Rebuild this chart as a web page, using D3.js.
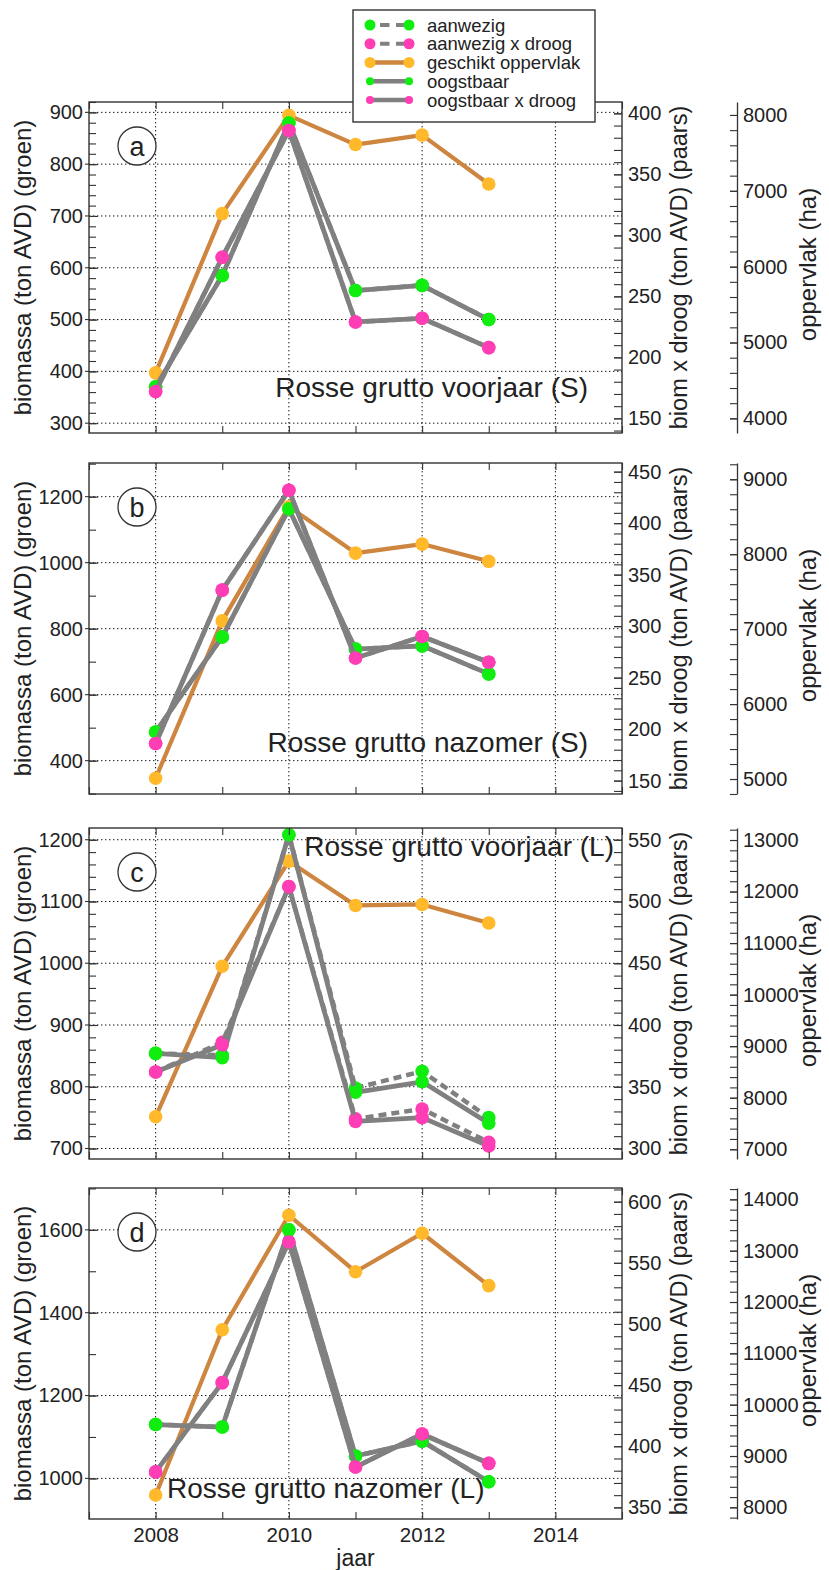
<!DOCTYPE html>
<html><head><meta charset="utf-8">
<script src="https://cdn.jsdelivr.net/npm/d3@7"></script>
<style>
body{margin:0;background:#fff}
svg{display:block}
text{font-family:"Liberation Sans",Arial,Helvetica,sans-serif;fill:#222}
</style>
</head><body>
<svg id="chart" width="829" height="1570"></svg>
<script>
// ---------------- data ----------------
const years = [2008, 2009, 2010, 2011, 2012, 2013];
const allYears = [2007, 2008, 2009, 2010, 2011, 2012, 2013, 2014, 2015];
const xGridYears = [2008, 2010, 2012, 2014];
const xLabelYears = [2008, 2010, 2012, 2014];

const seriesNames = ["aanwezig", "aanwezig x droog", "geschikt oppervlak", "oogstbaar", "oogstbaar x droog"];
const panelLetters = ["a", "b", "c", "d"];
const panelTitles = ["Rosse grutto voorjaar (S)", "Rosse grutto nazomer (S)", "Rosse grutto voorjaar (L)", "Rosse grutto nazomer (L)"];

// panel a
const aanwezigA        = [370, 585, 880, 556, 566, 500];
const aanwezigDroogA   = [172, 282, 386, 229, 232, 208];
const geschiktA        = [4600, 6700, 7995, 7610, 7735, 7090];
const oogstbaarA       = [370, 585, 880, 556, 566, 500];
const oogstbaarDroogA  = [172, 282, 386, 229, 232, 208];
// panel b
const aanwezigB        = [487, 775, 1163, 738, 748, 663];
const aanwezigDroogB   = [186, 335, 432, 269, 290, 265];
const geschiktB        = [5010, 7110, 8635, 8015, 8135, 7905];
const oogstbaarB       = [487, 775, 1163, 738, 748, 663];
const oogstbaarDroogB  = [186, 335, 432, 269, 290, 265];
// panel c
const aanwezigC        = [854, 851, 1208, 798, 825, 750];
const aanwezigDroogC   = [362, 386, 512, 324, 332, 305];
const geschiktC        = [7630, 10550, 12590, 11730, 11750, 11390];
const oogstbaarC       = [854, 847, 1208, 791, 808, 741];
const oogstbaarDroogC  = [362, 384, 512, 322, 325, 302];
// panel d
const aanwezigD        = [1130, 1124, 1600, 1054, 1090, 992];
const aanwezigDroogD   = [379, 452, 567, 383, 410, 386];
const geschiktD        = [8240, 11460, 13690, 12590, 13340, 12320];
const oogstbaarD       = [1130, 1124, 1600, 1054, 1090, 992];
const oogstbaarDroogD  = [379, 452, 567, 383, 410, 386];

// axis domains
const leftDomains  = [[281, 920], [299, 1302], [683, 1219], [902, 1701]];
const rightDomains = [[138, 409.3], [137, 458.4], [291.5, 559.5], [340.5, 611.2]];
const oppDomains   = [[3807, 8171], [4800, 9217], [6811, 13233], [7773, 14221]];

// tick labels
const leftTicks  = [[300,400,500,600,700,800,900], [400,600,800,1000,1200], [700,800,900,1000,1100,1200], [1000,1200,1400,1600]];
const leftMinorStep = [20, 100, 20, 100];
const rightTicks = [[150,200,250,300,350,400], [150,200,250,300,350,400,450], [300,350,400,450,500,550], [350,400,450,500,550,600]];
const rightMinorStep = [10, 10, 10, 10];
const oppTicks   = [[4000,5000,6000,7000,8000], [5000,6000,7000,8000,9000], [7000,8000,9000,10000,11000,12000,13000], [8000,9000,10000,11000,12000,13000,14000]];
const oppMinorStep = [200, 200, 200, 200];

const panelData = [
  [aanwezigA, aanwezigDroogA, geschiktA, oogstbaarA, oogstbaarDroogA],
  [aanwezigB, aanwezigDroogB, geschiktB, oogstbaarB, oogstbaarDroogB],
  [aanwezigC, aanwezigDroogC, geschiktC, oogstbaarC, oogstbaarDroogC],
  [aanwezigD, aanwezigDroogD, geschiktD, oogstbaarD, oogstbaarDroogD]
];

// ---------------- styles / layout ----------------
const GREEN = "#10ee10", PINK = "#ff3db4", GOLD = "#ffb92a", ORANGE_LINE = "#cd853f", GRAY = "#808080";
const seriesStyle = [
  {axis: "L", dash: "8,5", dot: GREEN, line: GRAY, lw: 4.5},
  {axis: "R", dash: "8,5", dot: PINK,  line: GRAY, lw: 4.5},
  {axis: "O", dash: null,  dot: GOLD,  line: ORANGE_LINE, lw: 4.2},
  {axis: "L", dash: null,  dot: GREEN, line: GRAY, lw: 4.8},
  {axis: "R", dash: null,  dot: PINK,  line: GRAY, lw: 4.8}
];
const X0 = 89, X1 = 622, H = 331;
const tops = [102, 463, 828, 1188];
const OPP_X = 737;
const titlePos = [
  {x: 588, y: 387, anchor: "end"},
  {x: 588, y: 742, anchor: "end"},
  {x: 614, y: 846, anchor: "end"},
  {x: 167, y: 1488, anchor: "start"}
];
const FONT = '"Liberation Sans",Arial,Helvetica,sans-serif';
const fmt = d3.format("d");

const svg = d3.select("#chart");
svg.append("rect").attr("width", 829).attr("height", 1570).attr("fill", "#fff");

const x = d3.scaleLinear().domain([2007, 2015]).range([X0, X1]);

function rangeStep(dom, step) {
  const out = [];
  const s = Math.ceil(dom[0] / step) * step;
  for (let v = s; v <= dom[1] + 1e-9; v += step) out.push(v);
  return out;
}
function styleAxis(g, size) {
  g.attr("font-family", FONT).attr("font-size", size);
  g.selectAll("text").attr("fill", "#222");
  g.selectAll("line").attr("stroke", "#333").attr("stroke-width", 1.1);
  g.selectAll("path.domain").attr("stroke", "#333").attr("stroke-width", 1.3);
}

panelData.forEach((series, i) => {
  const top = tops[i], bot = top + H;
  const yL = d3.scaleLinear().domain(leftDomains[i]).range([bot, top]);
  const yR = d3.scaleLinear().domain(rightDomains[i]).range([bot, top]);
  const yO = d3.scaleLinear().domain(oppDomains[i]).range([bot, top]);
  const scales = {L: yL, R: yR, O: yO};
  const g = svg.append("g");

  // grid
  g.append("g").selectAll("line").data(leftTicks[i]).enter().append("line")
    .attr("x1", X0).attr("x2", X1).attr("y1", d => yL(d)).attr("y2", d => yL(d))
    .attr("stroke", "#111").attr("stroke-width", 1).attr("stroke-dasharray", "1.4,2.6");
  g.append("g").selectAll("line").data(xGridYears).enter().append("line")
    .attr("x1", d => x(d)).attr("x2", d => x(d)).attr("y1", top).attr("y2", bot)
    .attr("stroke", "#111").attr("stroke-width", 1).attr("stroke-dasharray", "1.4,2.6");

  // series
  series.forEach((vals, k) => {
    const st = seriesStyle[k];
    const sc = scales[st.axis];
    const ln = d3.line().x((d, j) => x(years[j])).y(d => sc(d));
    g.append("path").attr("d", ln(vals)).attr("fill", "none")
      .attr("stroke", st.line).attr("stroke-width", st.lw)
      .attr("stroke-linejoin", "round")
      .attr("stroke-dasharray", st.dash);
    g.append("g").selectAll("circle").data(vals).enter().append("circle")
      .attr("cx", (d, j) => x(years[j])).attr("cy", d => sc(d)).attr("r", 6.8)
      .attr("fill", st.dot);
  });

  // box
  g.append("rect").attr("x", X0).attr("y", top).attr("width", X1 - X0).attr("height", H)
    .attr("fill", "none").attr("stroke", "#333").attr("stroke-width", 1.4);

  // left axis
  const la = g.append("g").attr("transform", `translate(${X0},0)`)
    .call(d3.axisLeft(yL).tickValues(leftTicks[i]).tickFormat(fmt).tickSizeInner(-9).tickSizeOuter(0).tickPadding(6));
  la.select(".domain").remove();
  styleAxis(la, 20);
  const lm = g.append("g").attr("transform", `translate(${X0},0)`)
    .call(d3.axisLeft(yL).tickValues(rangeStep(leftDomains[i], leftMinorStep[i])).tickSizeInner(-7).tickSizeOuter(0).tickFormat(""));
  lm.select(".domain").remove();
  styleAxis(lm, 20);
  g.append("g").selectAll("line").data(leftTicks[i]).enter().append("line")
    .attr("x1", X0 - 4).attr("x2", X0).attr("y1", d => yL(d)).attr("y2", d => yL(d))
    .attr("stroke", "#333").attr("stroke-width", 1.1);

  // right axis (biom x droog)
  const ra = g.append("g").attr("transform", `translate(${X1},0)`)
    .call(d3.axisRight(yR).tickValues(rightTicks[i]).tickFormat(fmt).tickSizeInner(-8).tickSizeOuter(0).tickPadding(6));
  ra.select(".domain").remove();
  styleAxis(ra, 20);
  const rm = g.append("g").attr("transform", `translate(${X1},0)`)
    .call(d3.axisRight(yR).tickValues(rangeStep(rightDomains[i], rightMinorStep[i])).tickSizeInner(-8).tickSizeOuter(0).tickFormat(""));
  rm.select(".domain").remove();
  styleAxis(rm, 20);

  // oppervlak axis
  const oa = g.append("g").attr("transform", `translate(${OPP_X},0)`)
    .call(d3.axisRight(yO).tickValues(oppTicks[i]).tickFormat(fmt).tickSizeInner(-7).tickSizeOuter(0).tickPadding(6));
  styleAxis(oa, 20);
  const om = g.append("g").attr("transform", `translate(${OPP_X},0)`)
    .call(d3.axisRight(yO).tickValues(rangeStep(oppDomains[i], oppMinorStep[i])).tickSizeInner(-7).tickSizeOuter(0).tickFormat(""));
  om.select(".domain").remove();
  styleAxis(om, 20);

  // x ticks (bottom & top)
  const bx = g.append("g").attr("transform", `translate(0,${bot})`)
    .call(d3.axisBottom(x).tickValues(allYears).tickSizeInner(-7).tickSizeOuter(0)
      .tickPadding(8).tickFormat(d => (i === 3 && xLabelYears.includes(d)) ? fmt(d) : ""));
  bx.select(".domain").remove();
  styleAxis(bx, 20.5);
  const tx = g.append("g").attr("transform", `translate(0,${top})`)
    .call(d3.axisTop(x).tickValues(allYears).tickSizeInner(-7).tickSizeOuter(0).tickFormat(""));
  tx.select(".domain").remove();
  styleAxis(tx, 20);

  // axis titles
  const cy = top + H / 2;
  g.append("text").attr("transform", `translate(22,${cy}) rotate(-90)`)
    .attr("text-anchor", "middle").attr("dominant-baseline", "central")
    .attr("font-size", 24).text("biomassa (ton AVD) (groen)");
  g.append("text").attr("transform", `translate(679,${cy}) rotate(-90)`)
    .attr("text-anchor", "middle").attr("dominant-baseline", "central")
    .attr("font-size", 23.5).text("biom x droog (ton AVD) (paars)");
  g.append("text").attr("transform", `translate(807,${cy - 3}) rotate(-90)`)
    .attr("text-anchor", "middle").attr("dominant-baseline", "central")
    .attr("font-size", 24).text("oppervlak (ha)");

  // panel title
  const tp = titlePos[i];
  g.append("text").attr("x", tp.x).attr("y", tp.y).attr("text-anchor", tp.anchor)
    .attr("dominant-baseline", "central").attr("font-size", 28).text(panelTitles[i]);

  // panel letter
  g.append("circle").attr("cx", 137).attr("cy", top + 44).attr("r", 19)
    .attr("fill", "#fff").attr("stroke", "#333").attr("stroke-width", 1.3);
  g.append("text").attr("x", 137).attr("y", top + 45).attr("text-anchor", "middle")
    .attr("dominant-baseline", "central").attr("font-size", 27).text(panelLetters[i]);
});

// x axis title
svg.append("text").attr("x", (X0 + X1) / 2).attr("y", 1558).attr("text-anchor", "middle")
  .attr("dominant-baseline", "central").attr("font-size", 23).text("jaar");

// legend
const lg = svg.append("g");
lg.append("rect").attr("x", 353).attr("y", 10).attr("width", 242).attr("height", 112)
  .attr("fill", "#fff").attr("stroke", "#333").attr("stroke-width", 1.4);
seriesNames.forEach((name, k) => {
  const st = seriesStyle[k];
  const yy = 25 + k * 18.75;
  const r = st.dash ? 5.5 : (k === 2 ? 5.5 : 4);
  if (st.dash) {
    lg.append("line").attr("x1", 380).attr("x2", 406).attr("y1", yy).attr("y2", yy)
      .attr("stroke", st.line).attr("stroke-width", 4).attr("stroke-dasharray", "9.5,6.5");
  } else {
    lg.append("line").attr("x1", 370).attr("x2", 409).attr("y1", yy).attr("y2", yy)
      .attr("stroke", st.line).attr("stroke-width", 4.5);
  }
  lg.append("circle").attr("cx", 370).attr("cy", yy).attr("r", r).attr("fill", st.dot);
  lg.append("circle").attr("cx", 409).attr("cy", yy).attr("r", r).attr("fill", st.dot);
  lg.append("text").attr("x", 427).attr("y", yy).attr("dominant-baseline", "central")
    .attr("font-size", 18.5).text(name);
});
</script>
</body></html>
